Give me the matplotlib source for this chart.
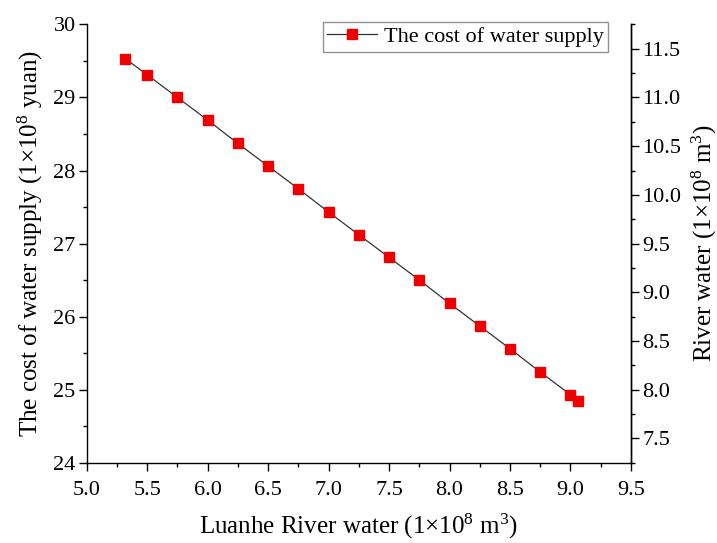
import numpy as np
import matplotlib
matplotlib.use("Agg")
import matplotlib.pyplot as plt
from matplotlib.ticker import MultipleLocator

plt.rcParams['font.family'] = ['Liberation Serif', 'DejaVu Serif']
plt.rcParams['mathtext.fontset'] = 'custom'
plt.rcParams['mathtext.rm'] = 'Liberation Serif'
plt.rcParams['mathtext.it'] = 'Liberation Serif:italic'

# Luanhe River water vs cost of water supply
luanhe = [5.32, 5.5, 5.75, 6.0, 6.25, 6.5, 6.75, 7.0, 7.25, 7.5,
          7.75, 8.0, 8.25, 8.5, 8.75, 9.0, 9.06]
cost = [29.53, 29.31, 29.00, 28.69, 28.37, 28.06, 27.75, 27.43, 27.12, 26.81,
        26.50, 26.18, 25.87, 25.56, 25.24, 24.93, 24.85]
series_name = "The cost of water supply"

fig = plt.figure(figsize=(7.17, 5.43), dpi=100)
ax = fig.add_axes([0.121, 0.148, 0.759, 0.807])
ax.plot(luanhe, cost, color="#333333", lw=0.9, marker="s", ms=6.5,
        mfc="#ee0000", mec="#ee0000", label=series_name)

ax.set_xlim(5.0, 9.5)
ax.set_ylim(24, 30)
ax.xaxis.set_major_locator(MultipleLocator(0.5))
ax.xaxis.set_minor_locator(MultipleLocator(0.25))
ax.yaxis.set_major_locator(MultipleLocator(1))
ax.yaxis.set_minor_locator(MultipleLocator(0.5))
ax.set_xlabel("Luanhe River water (1×10$^{8}$ m$^{3}$)", fontsize=18, labelpad=8)
ax.set_ylabel("The cost of water supply (1×10$^{8}$ yuan)", fontsize=18, labelpad=6)

ax2 = ax.twinx()
ax2.set_ylim(7.25, 11.75)
ax2.yaxis.set_major_locator(MultipleLocator(0.5))
ax2.yaxis.set_minor_locator(MultipleLocator(0.25))
ax2.set_ylabel("River water (1×10$^{8}$ m$^{3}$)", fontsize=18, labelpad=6)

for a in (ax, ax2):
    a.spines['top'].set_visible(False)
    for s in a.spines.values():
        s.set_linewidth(1.0)
    a.tick_params(which='major', direction='out', length=5.5, width=1.0,
                  labelsize=16, pad=2.5)
    a.tick_params(which='minor', direction='out', length=3, width=1.0)
ax.tick_params(axis='x', which='major', pad=8)
ax2.spines['left'].set_visible(False)
ax2.spines['bottom'].set_visible(False)

leg = ax.legend(loc='upper right', bbox_to_anchor=(0.958, 1.005), fontsize=16,
                frameon=True, fancybox=False, edgecolor="#777777",
                borderpad=0.2, borderaxespad=0.0, handlelength=2.25,
                handletextpad=0.3)
leg.get_frame().set_linewidth(1.0)

fig.savefig("out.png", dpi=100)
